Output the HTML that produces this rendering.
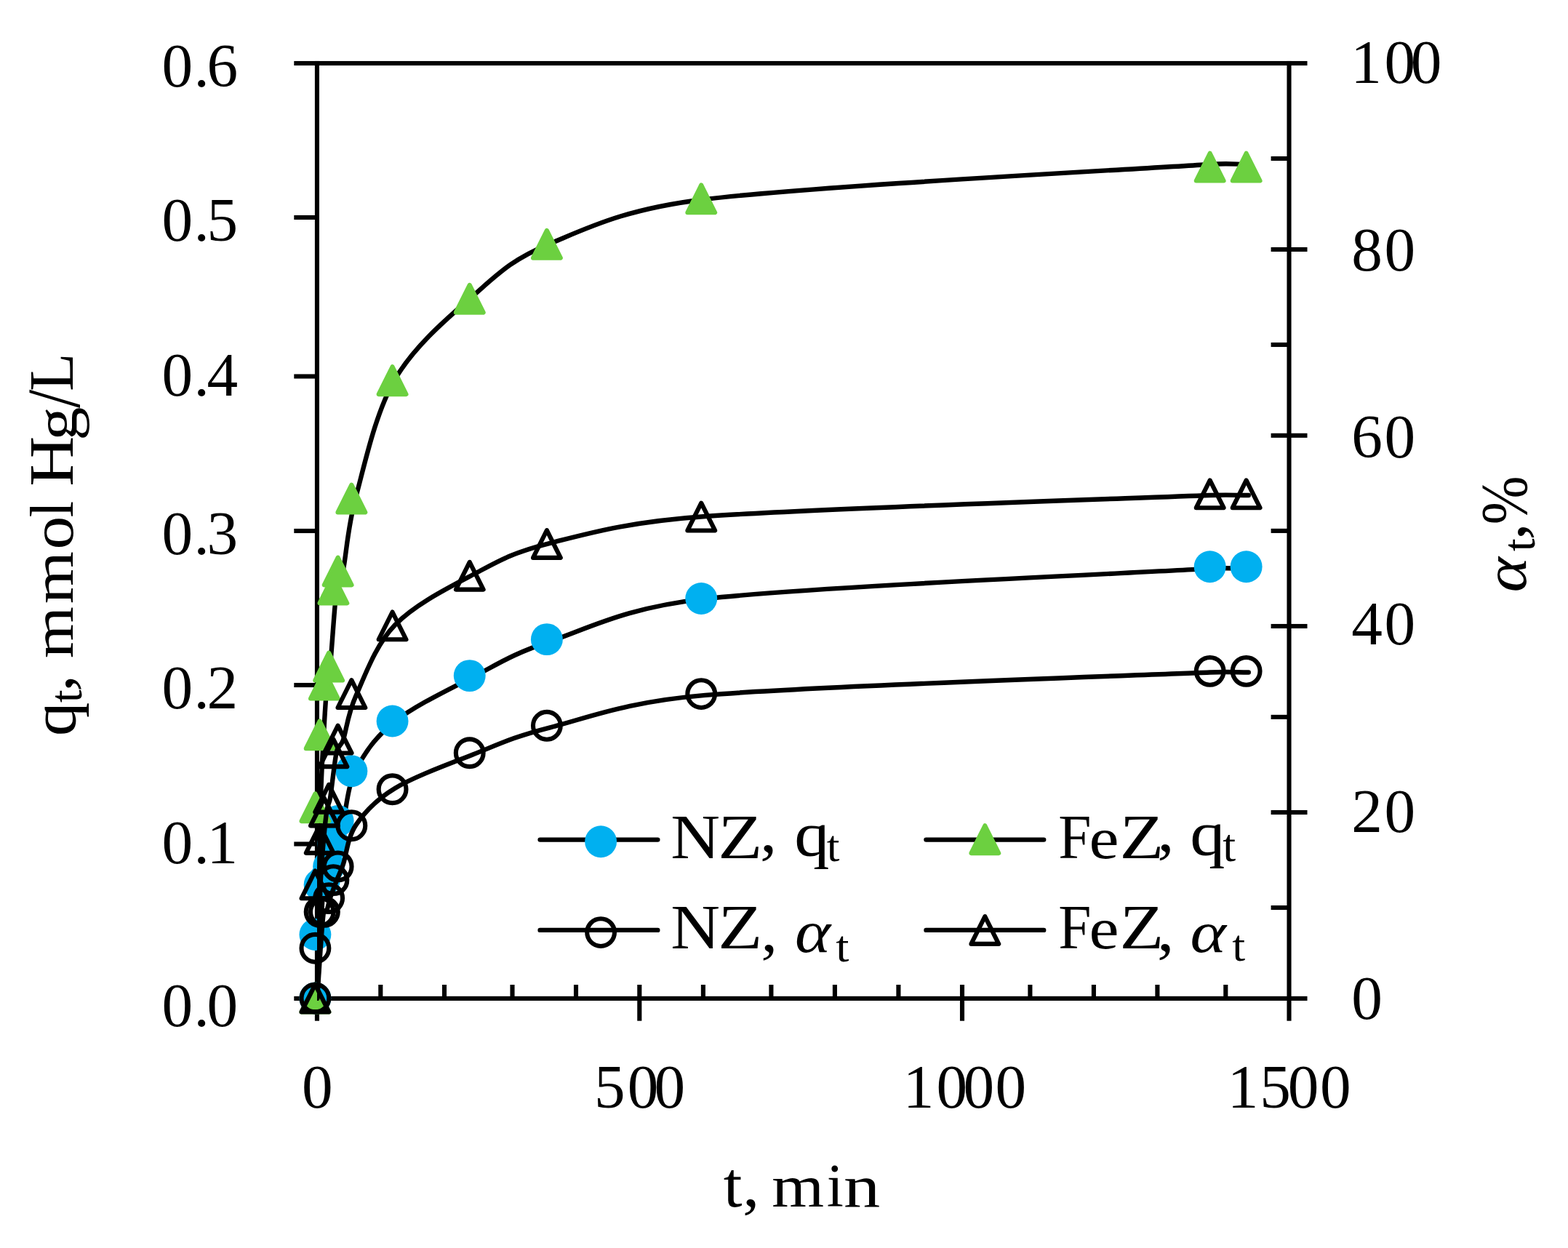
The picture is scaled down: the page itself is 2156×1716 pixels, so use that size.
<!DOCTYPE html>
<html lang="en"><head><meta charset="utf-8"><title>Kinetics chart</title>
<style>html,body{margin:0;padding:0;background:#fff}svg{display:block}text{font-family:"Liberation Serif", serif;fill:#000}</style>
</head><body>
<svg width="2156" height="1716" viewBox="0 0 2156 1716" role="img" aria-label="Kinetics of Hg uptake on NZ and FeZ">
<rect width="2156" height="1716" fill="#fff"/>
<defs><clipPath id="plotclip"><rect x="436" y="84" width="1339.6" height="1292"/></clipPath></defs>
<g fill="#000">
<rect x="404.30" y="83.95" width="1393.20" height="6.10"/>
<rect x="404.30" y="1369.85" width="1393.20" height="6.10"/>
<rect x="432.90" y="83.95" width="6.10" height="1319.75"/>
<rect x="1769.45" y="83.95" width="6.10" height="1319.75"/>
<rect x="404.30" y="295.95" width="31.65" height="6.10"/>
<rect x="404.30" y="514.45" width="31.65" height="6.10"/>
<rect x="404.30" y="726.95" width="31.65" height="6.10"/>
<rect x="404.30" y="938.95" width="31.65" height="6.10"/>
<rect x="404.30" y="1157.45" width="31.65" height="6.10"/>
<rect x="1747.60" y="339.95" width="49.90" height="6.10"/>
<rect x="1747.60" y="595.75" width="49.90" height="6.10"/>
<rect x="1747.60" y="857.95" width="49.90" height="6.10"/>
<rect x="1747.60" y="1113.95" width="49.90" height="6.10"/>
<rect x="1747.60" y="214.95" width="24.90" height="6.10"/>
<rect x="1747.60" y="470.95" width="24.90" height="6.10"/>
<rect x="1747.60" y="726.85" width="24.90" height="6.10"/>
<rect x="1747.60" y="982.85" width="24.90" height="6.10"/>
<rect x="1747.60" y="1244.95" width="24.90" height="6.10"/>
<rect x="876.25" y="1354.00" width="6.10" height="49.70"/>
<rect x="1319.95" y="1354.00" width="6.10" height="49.70"/>
<rect x="520.25" y="1354.00" width="6.10" height="18.90"/>
<rect x="607.95" y="1354.00" width="6.10" height="18.90"/>
<rect x="701.45" y="1354.00" width="6.10" height="18.90"/>
<rect x="788.95" y="1354.00" width="6.10" height="18.90"/>
<rect x="963.85" y="1354.00" width="6.10" height="18.90"/>
<rect x="1057.35" y="1354.00" width="6.10" height="18.90"/>
<rect x="1144.85" y="1354.00" width="6.10" height="18.90"/>
<rect x="1232.35" y="1354.00" width="6.10" height="18.90"/>
<rect x="1413.35" y="1354.00" width="6.10" height="18.90"/>
<rect x="1500.85" y="1354.00" width="6.10" height="18.90"/>
<rect x="1588.35" y="1354.00" width="6.10" height="18.90"/>
<rect x="1682.25" y="1354.00" width="6.10" height="18.90"/>
</g>
<g>
<path d="M436.20,1372.90 C437.68,1343.06 439.16,1309.55 440.65,1283.38 C442.13,1257.21 443.61,1227.78 445.09,1215.88 C445.46,1212.94 448.55,1214.76 449.54,1211.98 C451.02,1207.81 451.76,1199.69 453.99,1190.90 C456.21,1182.10 459.91,1169.32 462.88,1159.21 C465.84,1149.10 467.90,1144.88 471.77,1130.23 C476.22,1113.39 477.70,1081.20 489.56,1058.17 C501.42,1035.14 516.24,1013.22 542.92,992.07 C569.59,970.91 614.06,949.60 649.63,931.23 C685.20,912.86 702.99,899.84 756.35,881.85 C809.71,863.86 859.79,835.44 969.78,823.32 C1120.96,806.66 1538.93,788.80 1663.43,781.90 C1690.07,780.42 1699.01,781.90 1716.79,781.90" clip-path="url(#plotclip)" fill="none" stroke="#000" stroke-width="6.4" stroke-linecap="round" stroke-linejoin="round"/>
<circle cx="433.40" cy="1372.50" r="21.95" fill="#00b0f0"/>
<circle cx="433.40" cy="1285.07" r="21.95" fill="#00b0f0"/>
<circle cx="439.64" cy="1216.38" r="21.95" fill="#00b0f0"/>
<circle cx="445.89" cy="1210.13" r="21.95" fill="#00b0f0"/>
<circle cx="452.13" cy="1191.39" r="21.95" fill="#00b0f0"/>
<circle cx="458.38" cy="1160.17" r="21.95" fill="#00b0f0"/>
<circle cx="464.62" cy="1128.94" r="21.95" fill="#00b0f0"/>
<circle cx="483.36" cy="1060.25" r="21.95" fill="#00b0f0"/>
<circle cx="539.56" cy="991.56" r="21.95" fill="#00b0f0"/>
<circle cx="645.73" cy="929.11" r="21.95" fill="#00b0f0"/>
<circle cx="751.89" cy="879.14" r="21.95" fill="#00b0f0"/>
<circle cx="964.23" cy="822.94" r="21.95" fill="#00b0f0"/>
<circle cx="1663.66" cy="779.23" r="21.95" fill="#00b0f0"/>
<circle cx="1713.62" cy="779.23" r="21.95" fill="#00b0f0"/>
<path d="M436.20,1372.90 C437.68,1285.30 439.16,1170.61 440.65,1110.09 C441.88,1059.91 443.61,1037.65 445.09,1009.79 C446.58,981.93 448.06,958.58 449.54,942.96 C450.83,929.42 452.63,929.65 453.99,916.12 C456.21,893.97 459.91,832.09 462.88,810.10 C464.71,796.52 468.97,797.59 471.77,784.18 C476.22,762.90 477.70,726.13 489.56,682.40 C501.42,638.67 516.24,567.63 542.92,521.80 C569.59,475.97 614.06,438.56 649.63,407.42 C685.20,376.28 702.99,357.19 756.35,334.95 C809.71,312.71 859.59,287.23 969.78,273.99 C1120.96,255.83 1538.93,233.97 1663.43,225.96 C1690.06,224.25 1699.01,225.96 1716.79,225.96" clip-path="url(#plotclip)" fill="none" stroke="#000" stroke-width="6.4" stroke-linecap="round" stroke-linejoin="round"/>
<polygon points="433.40,1353.60 452.30,1391.40 414.50,1391.40" fill="#6cd040" stroke="#6cd040" stroke-width="6.1" stroke-linejoin="round"/>
<polygon points="433.40,1091.31 452.30,1129.11 414.50,1129.11" fill="#6cd040" stroke="#6cd040" stroke-width="6.1" stroke-linejoin="round"/>
<polygon points="439.64,991.39 458.54,1029.19 420.75,1029.19" fill="#6cd040" stroke="#6cd040" stroke-width="6.1" stroke-linejoin="round"/>
<polygon points="445.89,922.70 464.79,960.50 426.99,960.50" fill="#6cd040" stroke="#6cd040" stroke-width="6.1" stroke-linejoin="round"/>
<polygon points="452.13,897.72 471.03,935.51 433.24,935.51" fill="#6cd040" stroke="#6cd040" stroke-width="6.1" stroke-linejoin="round"/>
<polygon points="458.38,791.55 477.28,829.35 439.48,829.35" fill="#6cd040" stroke="#6cd040" stroke-width="6.1" stroke-linejoin="round"/>
<polygon points="464.62,766.57 483.52,804.37 445.73,804.37" fill="#6cd040" stroke="#6cd040" stroke-width="6.1" stroke-linejoin="round"/>
<polygon points="483.36,666.65 502.26,704.45 464.46,704.45" fill="#6cd040" stroke="#6cd040" stroke-width="6.1" stroke-linejoin="round"/>
<polygon points="539.56,504.28 558.46,542.08 520.66,542.08" fill="#6cd040" stroke="#6cd040" stroke-width="6.1" stroke-linejoin="round"/>
<polygon points="645.73,391.87 664.63,429.67 626.83,429.67" fill="#6cd040" stroke="#6cd040" stroke-width="6.1" stroke-linejoin="round"/>
<polygon points="751.89,316.93 770.79,354.73 733.00,354.73" fill="#6cd040" stroke="#6cd040" stroke-width="6.1" stroke-linejoin="round"/>
<polygon points="964.23,254.48 983.12,292.28 945.33,292.28" fill="#6cd040" stroke="#6cd040" stroke-width="6.1" stroke-linejoin="round"/>
<polygon points="1663.66,210.76 1682.57,248.56 1644.76,248.56" fill="#6cd040" stroke="#6cd040" stroke-width="6.1" stroke-linejoin="round"/>
<polygon points="1713.62,210.76 1732.53,248.56 1694.72,248.56" fill="#6cd040" stroke="#6cd040" stroke-width="6.1" stroke-linejoin="round"/>
<path d="M436.20,1372.90 C437.68,1350.26 439.16,1324.83 440.65,1304.98 C442.13,1285.12 443.61,1262.78 445.09,1253.75 C445.53,1251.12 448.41,1253.21 449.54,1250.79 C451.02,1247.63 451.76,1241.47 453.99,1234.80 C456.21,1228.12 459.91,1218.43 462.88,1210.75 C465.84,1203.08 467.87,1199.97 471.77,1188.77 C476.22,1175.99 477.70,1151.56 489.56,1134.09 C501.42,1116.62 516.24,1099.98 542.92,1083.93 C569.59,1067.88 614.06,1051.71 649.63,1037.77 C685.20,1023.83 702.99,1013.95 756.35,1000.30 C809.71,986.65 861.16,964.97 969.78,955.88 C1120.96,943.25 1538.93,929.70 1663.43,924.46 C1690.09,923.34 1699.01,924.46 1716.79,924.46" clip-path="url(#plotclip)" fill="none" stroke="#000" stroke-width="6.4" stroke-linecap="round" stroke-linejoin="round"/>
<circle cx="433.40" cy="1372.50" r="18.90" fill="none" stroke="#000" stroke-width="6.1"/>
<circle cx="433.40" cy="1303.81" r="18.90" fill="none" stroke="#000" stroke-width="6.1"/>
<circle cx="439.64" cy="1253.85" r="18.90" fill="none" stroke="#000" stroke-width="6.1"/>
<circle cx="445.89" cy="1253.85" r="18.90" fill="none" stroke="#000" stroke-width="6.1"/>
<circle cx="452.13" cy="1235.11" r="18.90" fill="none" stroke="#000" stroke-width="6.1"/>
<circle cx="458.38" cy="1210.13" r="18.90" fill="none" stroke="#000" stroke-width="6.1"/>
<circle cx="464.62" cy="1191.39" r="18.90" fill="none" stroke="#000" stroke-width="6.1"/>
<circle cx="483.36" cy="1135.19" r="18.90" fill="none" stroke="#000" stroke-width="6.1"/>
<circle cx="539.56" cy="1085.23" r="18.90" fill="none" stroke="#000" stroke-width="6.1"/>
<circle cx="645.73" cy="1035.27" r="18.90" fill="none" stroke="#000" stroke-width="6.1"/>
<circle cx="751.89" cy="997.80" r="18.90" fill="none" stroke="#000" stroke-width="6.1"/>
<circle cx="964.23" cy="954.09" r="18.90" fill="none" stroke="#000" stroke-width="6.1"/>
<circle cx="1663.66" cy="922.86" r="18.90" fill="none" stroke="#000" stroke-width="6.1"/>
<circle cx="1713.62" cy="922.86" r="18.90" fill="none" stroke="#000" stroke-width="6.1"/>
<path d="M436.20,1372.90 C437.68,1320.06 439.16,1250.88 440.65,1214.37 C441.88,1184.06 443.61,1170.67 445.09,1153.87 C446.58,1137.07 448.06,1122.98 449.54,1113.56 C450.85,1105.26 452.61,1105.65 453.99,1097.36 C456.21,1084.01 459.91,1046.68 462.88,1033.41 C464.84,1024.64 468.83,1026.28 471.77,1017.78 C476.22,1004.94 477.70,982.76 489.56,956.38 C501.42,930.01 516.24,887.16 542.92,859.51 C569.59,831.87 614.06,809.30 649.63,790.52 C685.20,771.73 702.99,760.21 756.35,746.80 C809.71,733.39 861.78,717.86 969.78,710.03 C1120.96,699.07 1538.93,685.88 1663.43,681.06 C1690.09,680.02 1699.01,681.06 1716.79,681.06" clip-path="url(#plotclip)" fill="none" stroke="#000" stroke-width="6.4" stroke-linecap="round" stroke-linejoin="round"/>
<polygon points="433.40,1353.60 452.30,1391.40 414.50,1391.40" fill="none" stroke="#000" stroke-width="6.1" stroke-linejoin="round"/>
<polygon points="433.40,1197.47 452.30,1235.28 414.50,1235.28" fill="none" stroke="#000" stroke-width="6.1" stroke-linejoin="round"/>
<polygon points="439.64,1135.02 458.54,1172.83 420.75,1172.83" fill="none" stroke="#000" stroke-width="6.1" stroke-linejoin="round"/>
<polygon points="445.89,1097.55 464.79,1135.36 426.99,1135.36" fill="none" stroke="#000" stroke-width="6.1" stroke-linejoin="round"/>
<polygon points="452.13,1078.82 471.03,1116.62 433.24,1116.62" fill="none" stroke="#000" stroke-width="6.1" stroke-linejoin="round"/>
<polygon points="458.38,1016.37 477.28,1054.17 439.48,1054.17" fill="none" stroke="#000" stroke-width="6.1" stroke-linejoin="round"/>
<polygon points="464.62,997.63 483.52,1035.43 445.73,1035.43" fill="none" stroke="#000" stroke-width="6.1" stroke-linejoin="round"/>
<polygon points="483.36,935.19 502.26,972.99 464.46,972.99" fill="none" stroke="#000" stroke-width="6.1" stroke-linejoin="round"/>
<polygon points="539.56,841.51 558.46,879.31 520.66,879.31" fill="none" stroke="#000" stroke-width="6.1" stroke-linejoin="round"/>
<polygon points="645.73,772.82 664.63,810.62 626.83,810.62" fill="none" stroke="#000" stroke-width="6.1" stroke-linejoin="round"/>
<polygon points="751.89,729.10 770.79,766.90 733.00,766.90" fill="none" stroke="#000" stroke-width="6.1" stroke-linejoin="round"/>
<polygon points="964.23,691.63 983.12,729.43 945.33,729.43" fill="none" stroke="#000" stroke-width="6.1" stroke-linejoin="round"/>
<polygon points="1663.66,660.40 1682.57,698.20 1644.76,698.20" fill="none" stroke="#000" stroke-width="6.1" stroke-linejoin="round"/>
<polygon points="1713.62,660.40 1732.53,698.20 1694.72,698.20" fill="none" stroke="#000" stroke-width="6.1" stroke-linejoin="round"/>
</g>
<g>
<line x1="742.60" y1="1154.60" x2="904.30" y2="1154.60" stroke="#000" stroke-width="6.4" stroke-linecap="round"/>
<circle cx="826.10" cy="1157.20" r="21.95" fill="#00b0f0"/>
<line x1="1273.40" y1="1154.60" x2="1435.20" y2="1154.60" stroke="#000" stroke-width="6.4" stroke-linecap="round"/>
<polygon points="1354.30,1135.30 1373.20,1173.10 1335.40,1173.10" fill="#6cd040" stroke="#6cd040" stroke-width="6.1" stroke-linejoin="round"/>
<line x1="742.60" y1="1278.90" x2="904.30" y2="1278.90" stroke="#000" stroke-width="6.4" stroke-linecap="round"/>
<circle cx="826.10" cy="1282.10" r="18.90" fill="none" stroke="#000" stroke-width="6.1"/>
<line x1="1273.40" y1="1278.90" x2="1435.20" y2="1278.90" stroke="#000" stroke-width="6.4" stroke-linecap="round"/>
<polygon points="1354.30,1260.10 1373.20,1297.90 1335.40,1297.90" fill="none" stroke="#000" stroke-width="6.1" stroke-linejoin="round"/>
</g>
<g font-size="85.3">
<text><tspan x="222.58" y="119.10">0</tspan><tspan x="266.39" y="119.10">.</tspan><tspan x="284.41" y="119.10">6</tspan></text>
<text><tspan x="222.58" y="331.00">0</tspan><tspan x="266.39" y="331.00">.</tspan><tspan x="284.41" y="331.00">5</tspan></text>
<text><tspan x="222.58" y="544.00">0</tspan><tspan x="266.39" y="544.00">.</tspan><tspan x="284.41" y="544.00">4</tspan></text>
<text><tspan x="222.58" y="762.10">0</tspan><tspan x="266.39" y="762.10">.</tspan><tspan x="284.41" y="762.10">3</tspan></text>
<text><tspan x="222.58" y="974.40">0</tspan><tspan x="266.39" y="974.40">.</tspan><tspan x="284.41" y="974.40">2</tspan></text>
<text><tspan x="222.58" y="1186.90">0</tspan><tspan x="266.39" y="1186.90">.</tspan><tspan x="284.41" y="1186.90">1</tspan></text>
<text><tspan x="222.58" y="1411.40">0</tspan><tspan x="266.39" y="1411.40">.</tspan><tspan x="284.41" y="1411.40">0</tspan></text>
<text><tspan x="1857.14" y="113.50">1</tspan><tspan x="1903.38" y="113.50">0</tspan><tspan x="1939.83" y="113.50">0</tspan></text>
<text><tspan x="1858.17" y="371.80">8</tspan><tspan x="1903.38" y="371.80">0</tspan></text>
<text><tspan x="1858.17" y="628.80">6</tspan><tspan x="1903.38" y="628.80">0</tspan></text>
<text><tspan x="1858.17" y="885.50">4</tspan><tspan x="1903.38" y="885.50">0</tspan></text>
<text><tspan x="1858.17" y="1144.00">2</tspan><tspan x="1903.38" y="1144.00">0</tspan></text>
<text><tspan x="1858.17" y="1400.50">0</tspan></text>
<text><tspan x="414.88" y="1523.00">0</tspan></text>
<text><tspan x="817.11" y="1523.00">5</tspan><tspan x="862.82" y="1523.00">0</tspan><tspan x="899.47" y="1523.00">0</tspan></text>
<text><tspan x="1241.79" y="1522.80">1</tspan><tspan x="1287.52" y="1522.80">0</tspan><tspan x="1324.62" y="1522.80">0</tspan><tspan x="1368.58" y="1522.80">0</tspan></text>
<text><tspan x="1687.79" y="1522.80">1</tspan><tspan x="1732.21" y="1522.80">5</tspan><tspan x="1770.73" y="1522.80">0</tspan><tspan x="1814.98" y="1522.80">0</tspan></text>
</g>
<g font-size="83">
<text><tspan x="994.69" y="1659.13" font-size="89.22" textLength="25.75" lengthAdjust="spacingAndGlyphs">t</tspan><tspan x="1021.00" y="1657.85" font-size="86.83" textLength="23.44" lengthAdjust="spacingAndGlyphs">,</tspan> <tspan x="1061.36" y="1659.10" font-size="82.13" textLength="71.88" lengthAdjust="spacingAndGlyphs">m</tspan><tspan x="1136.85" y="1659.10" font-size="83.97" textLength="23.13" lengthAdjust="spacingAndGlyphs">i</tspan><tspan x="1160.09" y="1659.10" font-size="82.13" textLength="50.23" lengthAdjust="spacingAndGlyphs">n</tspan></text>
<text transform="translate(100.1,1010.0) rotate(-90)"><tspan x="-2.27" y="3.13" font-size="86.76" textLength="46.66" lengthAdjust="spacingAndGlyphs">q</tspan><tspan x="44.08" y="12.19" font-size="62.33" textLength="17.59" lengthAdjust="spacingAndGlyphs">t</tspan><tspan x="59.09" y="-1.47" font-size="85.66" textLength="23.13" lengthAdjust="spacingAndGlyphs">,</tspan> <tspan x="104.68" y="0.00" font-size="80.43" textLength="71.25" lengthAdjust="spacingAndGlyphs">m</tspan><tspan x="179.65" y="0.00" font-size="80.43" textLength="72.09" lengthAdjust="spacingAndGlyphs">m</tspan><tspan x="254.40" y="0.10" font-size="81.92" textLength="45.89" lengthAdjust="spacingAndGlyphs">o</tspan><tspan x="298.57" y="0.00" font-size="84.46" textLength="22.67" lengthAdjust="spacingAndGlyphs">l</tspan> <tspan x="341.35" y="0.00" font-size="85.83" textLength="68.95" lengthAdjust="spacingAndGlyphs">H</tspan><tspan x="404.32" y="4.50" font-size="83.40" textLength="46.35" lengthAdjust="spacingAndGlyphs">g</tspan><tspan x="448.90" y="8.70" font-size="102.85" textLength="25.30" lengthAdjust="spacingAndGlyphs">/</tspan><tspan x="472.12" y="0.00" font-size="85.83" textLength="52.54" lengthAdjust="spacingAndGlyphs">L</tspan></text>
<text transform="translate(2098.3,812.0) rotate(-90)"><tspan x="-2.55" y="-0.25" font-size="82.79" textLength="48.42" lengthAdjust="spacingAndGlyphs" font-style="italic">α</tspan><tspan x="53.77" y="11.99" font-size="62.68" textLength="17.91" lengthAdjust="spacingAndGlyphs">t</tspan><tspan x="69.44" y="-2.43" font-size="86.05" textLength="23.23" lengthAdjust="spacingAndGlyphs">,</tspan><tspan x="90.66" y="0.30" font-size="90.97" textLength="66.67" lengthAdjust="spacingAndGlyphs">%</tspan></text>
<text><tspan x="922.30" y="1180.20" font-size="86.14" textLength="67.76" lengthAdjust="spacingAndGlyphs">N</tspan><tspan x="987.22" y="1180.20" font-size="86.14" textLength="61.05" lengthAdjust="spacingAndGlyphs">Z</tspan><tspan x="1045.14" y="1170.91" font-size="86.44" textLength="23.34" lengthAdjust="spacingAndGlyphs">,</tspan> <tspan x="1092.22" y="1176.18" font-size="87.48" textLength="48.12" lengthAdjust="spacingAndGlyphs">q</tspan><tspan x="1136.68" y="1183.90" font-size="61.81" textLength="17.70" lengthAdjust="spacingAndGlyphs">t</tspan></text>
<text><tspan x="1455.36" y="1180.30" font-size="85.98" textLength="45.18" lengthAdjust="spacingAndGlyphs">F</tspan><tspan x="1497.49" y="1180.41" font-size="81.09" textLength="41.01" lengthAdjust="spacingAndGlyphs">e</tspan><tspan x="1539.64" y="1180.30" font-size="85.98" textLength="60.81" lengthAdjust="spacingAndGlyphs">Z</tspan><tspan x="1591.15" y="1169.75" font-size="86.83" textLength="23.44" lengthAdjust="spacingAndGlyphs">,</tspan> <tspan x="1636.32" y="1175.30" font-size="86.91" textLength="48.12" lengthAdjust="spacingAndGlyphs">q</tspan><tspan x="1681.37" y="1184.49" font-size="62.33" textLength="17.91" lengthAdjust="spacingAndGlyphs">t</tspan></text>
<text><tspan x="922.30" y="1303.90" font-size="85.68" textLength="67.76" lengthAdjust="spacingAndGlyphs">N</tspan><tspan x="987.22" y="1303.90" font-size="85.68" textLength="61.05" lengthAdjust="spacingAndGlyphs">Z</tspan><tspan x="1046.19" y="1307.68" font-size="85.27" textLength="23.02" lengthAdjust="spacingAndGlyphs">,</tspan> <tspan x="1092.91" y="1309.36" font-size="81.96" textLength="49.13" lengthAdjust="spacingAndGlyphs" font-style="italic">α</tspan><tspan x="1149.16" y="1322.10" font-size="61.28" textLength="18.22" lengthAdjust="spacingAndGlyphs">t</tspan></text>
<text><tspan x="1455.36" y="1304.20" font-size="85.98" textLength="45.18" lengthAdjust="spacingAndGlyphs">F</tspan><tspan x="1497.49" y="1304.31" font-size="81.09" textLength="41.01" lengthAdjust="spacingAndGlyphs">e</tspan><tspan x="1539.64" y="1304.20" font-size="85.98" textLength="60.81" lengthAdjust="spacingAndGlyphs">Z</tspan><tspan x="1591.10" y="1306.89" font-size="87.22" textLength="23.55" lengthAdjust="spacingAndGlyphs">,</tspan> <tspan x="1636.59" y="1308.57" font-size="80.92" textLength="49.44" lengthAdjust="spacingAndGlyphs" font-style="italic">α</tspan><tspan x="1694.37" y="1321.39" font-size="61.98" textLength="17.91" lengthAdjust="spacingAndGlyphs">t</tspan></text>
</g>
</svg></body></html>
